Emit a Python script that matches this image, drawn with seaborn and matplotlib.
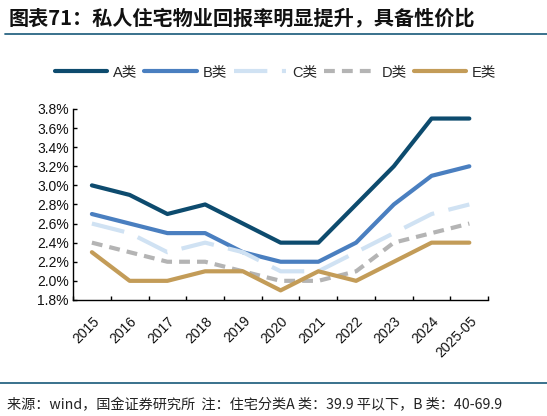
import pandas as pd
import seaborn as sns
import matplotlib.pyplot as plt
from matplotlib.lines import Line2D
from matplotlib.ticker import FixedLocator, FuncFormatter

years = ["2015", "2016", "2017", "2018", "2019", "2020", "2021", "2022", "2023", "2024", "2025-05"]
class_a = [3.0, 2.9, 2.7, 2.8, 2.6, 2.4, 2.4, 2.8, 3.2, 3.7, 3.7]
class_b = [2.7, 2.6, 2.5, 2.5, 2.3, 2.2, 2.2, 2.4, 2.8, 3.1, 3.2]
class_c = [2.6, 2.5, 2.3, 2.4, 2.3, 2.1, 2.1, 2.3, 2.5, 2.7, 2.8]
class_d = [2.4, 2.3, 2.2, 2.2, 2.1, 2.0, 2.0, 2.1, 2.4, 2.5, 2.6]
class_e = [2.3, 2.0, 2.0, 2.1, 2.1, 1.9, 2.1, 2.0, 2.2, 2.4, 2.4]
names = ["A类", "B类", "C类", "D类", "E类"]

sns.set_theme(style="white")
plt.rcParams['font.family'] = ['Liberation Sans', 'Noto Sans CJK SC', 'DejaVu Sans']

rows = []
for name, vals in zip(names, [class_a, class_b, class_c, class_d, class_e]):
    for i, v in enumerate(vals):
        rows.append({"idx": i, "year": years[i], "cls": name, "val": v})
df = pd.DataFrame(rows)

palette = {"A类": "#0d4b6e", "B类": "#4a7fc0", "C类": "#d0e2f3", "D类": "#b4b4b4", "E类": "#c39c58"}
dashes = {"A类": "", "B类": "", "C类": (8, 3.5), "D类": (2.6, 1.7), "E类": ""}

fig = plt.figure(figsize=(5.47, 4.16), dpi=100)
ax = fig.add_axes([0.1335, 0.279, 0.759, 0.459])

sns.lineplot(data=df, x="idx", y="val", hue="cls", style="cls", hue_order=names,
             style_order=names, palette=palette, dashes=dashes, linewidth=3,
             legend=False, ax=ax)

ax.set_xlim(-0.5, len(years) - 0.5)
ax.set_ylim(1.8, 3.8)
ax.set_yticks([1.8 + 0.2 * i for i in range(11)])
ax.yaxis.set_major_formatter(FuncFormatter(lambda v, p: f"{v:.1f}%"))
ax.set_xticks(range(len(years)))
ax.set_xticklabels(years, rotation=45, ha="right", rotation_mode="anchor")
ax.xaxis.set_minor_locator(FixedLocator([i - 0.5 for i in range(len(years) + 1)]))
ax.tick_params(axis="x", which="major", length=0, pad=10, labelsize=10, colors="#111111")
ax.tick_params(axis="x", which="minor", length=3, direction="in", width=1, color="black", bottom=True)
ax.tick_params(axis="y", length=3, direction="in", width=1, color="black", left=True, labelsize=10,
               labelcolor="#111111", pad=3)
ax.set_xlabel("")
ax.set_ylabel("")
for s in ["top", "right"]:
    ax.spines[s].set_visible(False)
for s in ["left", "bottom"]:
    ax.spines[s].set_color("black")
    ax.spines[s].set_linewidth(1)

fig.legend(list(ax.lines), names, loc="center", bbox_to_anchor=(0.504, 0.827), ncol=5, frameon=False,
           fontsize=10.5, handlelength=3.6, handletextpad=0.4, columnspacing=0.45)

fig.text(0.015, 0.958, "图表71：私人住宅物业回报率明显提升，具备性价比", fontsize=14.5,
         fontweight="bold", style="italic", va="center", ha="left",
         family=["Noto Sans CJK SC", "DejaVu Sans"], color="#111111")
fig.add_artist(Line2D([0.01, 1.0], [0.918, 0.918], color="#2a6683", lw=1.3, transform=fig.transFigure))
fig.add_artist(Line2D([0.0, 1.0], [0.079, 0.079], color="#2a6683", lw=1.3, transform=fig.transFigure))
fig.text(0.012, 0.025, "来源：wind，国金证券研究所  注：住宅分类A 类：39.9 平以下，B 类：40-69.9",
         fontsize=10.2, va="center", ha="left", family=["Noto Sans CJK SC", "DejaVu Sans"],
         color="#222222")

fig.savefig("out.png", dpi=100)
